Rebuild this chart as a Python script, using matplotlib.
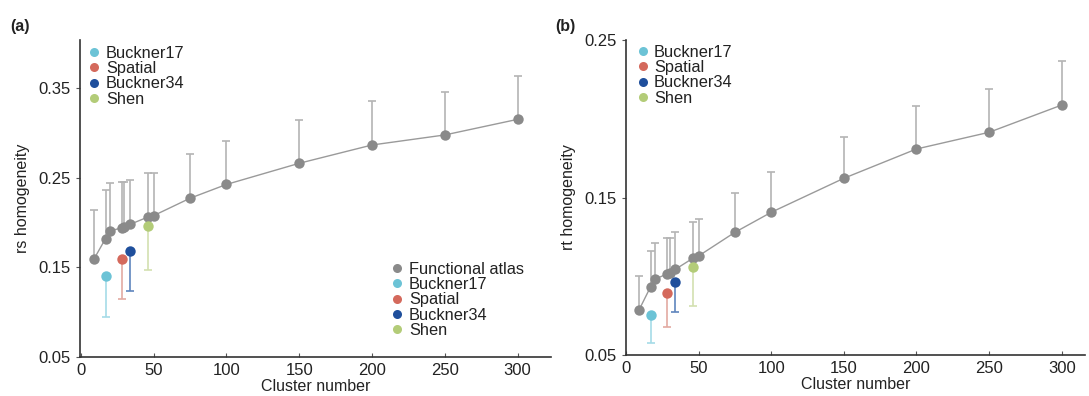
import matplotlib
matplotlib.use('Agg')
import matplotlib.pyplot as plt
from matplotlib.lines import Line2D
import numpy as np

plt.rcParams['font.family'] = ['Liberation Sans', 'DejaVu Sans']

# cluster numbers of the functional atlas
clusters = [9, 17, 20, 28, 30, 34, 46, 50, 75, 100, 150, 200, 250, 300]

# rs homogeneity (panel a)
rs_mean = [0.159, 0.182, 0.1905, 0.194, 0.195, 0.198, 0.206, 0.2076, 0.227, 0.2424,
           0.266, 0.2864, 0.2976, 0.315]
rs_err = [0.055, 0.054, 0.054, 0.051, 0.050, 0.049, 0.049, 0.048, 0.049, 0.049,
          0.048, 0.049, 0.048, 0.048]

# rt homogeneity (panel b)
rt_mean = [0.0786, 0.0934, 0.0981, 0.1014, 0.102, 0.1044, 0.1114, 0.1129, 0.1279, 0.1406,
           0.1622, 0.1808, 0.1914, 0.2087]
rt_err = [0.0216, 0.0226, 0.0232, 0.0231, 0.0225, 0.0235, 0.0232, 0.0234, 0.0248, 0.0254,
          0.026, 0.0273, 0.0275, 0.028]

# other atlases
atlas_names = ['Buckner17', 'Spatial', 'Buckner34', 'Shen']
atlas_k = [17, 28, 34, 46]
atlas_rs = [0.1407, 0.159, 0.1682, 0.196]
atlas_rs_err = [0.046, 0.044, 0.045, 0.049]
atlas_rt = [0.0754, 0.0892, 0.0965, 0.1057]
atlas_rt_err = [0.018, 0.0214, 0.019, 0.0246]

atlas_colors = ['#6cc3d6', '#d4695c', '#1f4f9c', '#b3cc78']
atlas_err_colors = ['#a6dbe7', '#e3aaa2', '#5f85bd', '#d3e0b0']
gray = '#8a8a8a'
gray_err = '#b4b4b4'
txt = '#222222'

fig = plt.figure(figsize=(10.89, 3.96), dpi=100)
ax_a = fig.add_axes([0.0735, 0.0985, 0.4325, 0.8005])
ax_b = fig.add_axes([0.5748, 0.1035, 0.4215, 0.7955])


def draw(ax, mean, err, amean, aerr):
    # upper-only error bars for the functional atlas
    _, caps, _ = ax.errorbar(clusters, mean, yerr=[np.zeros(len(err)), err], fmt='none',
                             ecolor=gray_err, elinewidth=1.2, capsize=3, capthick=1.2,
                             zorder=1)
    caps[0].set_visible(False)
    ax.plot(clusters, mean, color='#9a9a9a', lw=1.0, zorder=2)
    ax.plot(clusters, mean, 'o', color=gray, ms=7.5, mec='none', zorder=3)
    # lower-only error bars for the other atlases
    for k, m, e, c, ec in zip(atlas_k, amean, aerr, atlas_colors, atlas_err_colors):
        _, caps, _ = ax.errorbar([k], [m], yerr=[[e], [0]], fmt='none', ecolor=ec,
                                 elinewidth=1.2, capsize=3, capthick=1.2, zorder=1)
        caps[1].set_visible(False)
        ax.plot([k], [m], 'o', color=c, ms=7.5, mec='none', zorder=3)
    for s in ['top', 'right']:
        ax.spines[s].set_visible(False)
    for s in ['left', 'bottom']:
        ax.spines[s].set_color('#333333')
        ax.spines[s].set_linewidth(1.2)
    ax.tick_params(axis='x', direction='in', length=3, labelsize=12, colors='#555555',
                   labelcolor=txt, pad=4)
    ax.tick_params(axis='y', direction='out', length=3, labelsize=12, colors='#555555',
                   labelcolor=txt)
    ax.set_xticks([0, 50, 100, 150, 200, 250, 300])
    ax.set_xlabel('Cluster number', fontsize=11.5, color=txt, labelpad=1)


def atlas_handles(with_fa=False):
    hs = []
    if with_fa:
        hs.append(Line2D([], [], ls='none', marker='o', color=gray, mec='none', ms=6.5,
                         label='Functional atlas'))
    for n, c in zip(atlas_names, atlas_colors):
        hs.append(Line2D([], [], ls='none', marker='o', color=c, mec='none', ms=6.5, label=n))
    return hs


lkw = dict(frameon=False, fontsize=11.8, handlelength=0.7, handletextpad=0.35,
           labelspacing=0.02, borderpad=0.1, borderaxespad=0)

draw(ax_a, rs_mean, rs_err, atlas_rs, atlas_rs_err)
ax_a.set_xlim(-0.5, 323)
ax_a.set_ylim(0.05, 0.4035)
ax_a.set_yticks([0.05, 0.15, 0.25, 0.35])
ax_a.set_yticklabels(['0.05', '0.15', '0.25', '0.35'])
ax_a.set_ylabel('rs homogeneity', fontsize=11.5, color=txt, labelpad=6)
leg1 = ax_a.legend(handles=atlas_handles(), loc='upper left', bbox_to_anchor=(0.015, 0.987), **lkw)
for t in leg1.get_texts():
    t.set_color(txt)
ax_a.add_artist(leg1)
leg2 = ax_a.legend(handles=atlas_handles(True), loc='lower left',
                   bbox_to_anchor=(0.658, 0.055), **lkw)
for t in leg2.get_texts():
    t.set_color(txt)

draw(ax_b, rt_mean, rt_err, atlas_rt, atlas_rt_err)
ax_b.set_xlim(0, 316)
ax_b.set_ylim(0.05, 0.25)
ax_b.set_yticks([0.05, 0.15, 0.25])
ax_b.set_yticklabels(['0.05', '0.15', '0.25'])
ax_b.set_ylabel('rt homogeneity', fontsize=11.5, color=txt, labelpad=6)
leg3 = ax_b.legend(handles=atlas_handles(), loc='upper left', bbox_to_anchor=(0.02, 0.99), **lkw)
for t in leg3.get_texts():
    t.set_color(txt)

fig.text(10 / 1089, 1 - 27 / 396, '(a)', fontsize=11.5, fontweight='bold', color=txt, va='center')
fig.text(555 / 1089, 1 - 27 / 396, '(b)', fontsize=11.5, fontweight='bold', color=txt, va='center')

fig.savefig('out.png', dpi=100)
